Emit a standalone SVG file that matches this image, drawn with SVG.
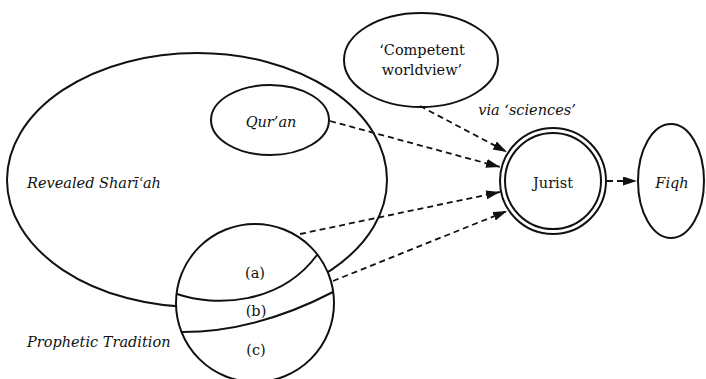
<svg xmlns="http://www.w3.org/2000/svg" width="706" height="379" viewBox="0 0 706 379">
<style>
.sh{fill:none;stroke:#111;stroke-width:2}
.wf{fill:#fff;stroke:#111;stroke-width:2}
text{font-family:'DejaVu Serif','Liberation Serif',serif;font-size:14.5px;fill:#111}
.i{font-style:italic}
.c{text-anchor:middle}
.d{fill:none;stroke:#111;stroke-width:1.8;stroke-dasharray:6 4}
</style>
<defs>
<marker id="ah" markerUnits="userSpaceOnUse" markerWidth="16" markerHeight="10" refX="14" refY="4.5" orient="auto">
<path d="M0,0 L14,4.5 L0,9 z" fill="#111"/>
</marker>
</defs>
<rect width="706" height="379" fill="#fff"/>
<g id="shariah">
<ellipse class="sh" cx="197" cy="180" rx="190" ry="127"/>
<text class="i" x="27" y="188">Revealed Sharīʿah</text>
</g>
<g id="quran">
<ellipse class="sh" cx="270" cy="120" rx="59" ry="35"/>
<text class="i c" x="271" y="127" font-size="15.5">Qur’an</text>
</g>
<g id="tradition">
<circle class="wf" cx="255" cy="303" r="79"/>
<path class="sh" d="M177,294 C215,307 280,305 317,255"/>
<path class="sh" d="M182,332 Q256,332 333,292"/>
<text class="c" x="255" y="278" font-size="15.5">(a)</text>
<text class="c" x="256" y="316" font-size="15.5">(b)</text>
<text class="c" x="256" y="355" font-size="15.5">(c)</text>
<text class="i" x="27" y="347">Prophetic Tradition</text>
</g>
<g id="worldview">
<ellipse class="sh" cx="421" cy="60" rx="77" ry="47"/>
<text class="c" x="422" y="55" font-size="17">‘Competent</text>
<text class="c" x="422" y="75" font-size="17">worldview’</text>
</g>
<g id="jurist">
<circle class="sh" cx="553" cy="181" r="53"/>
<circle class="sh" cx="553" cy="181" r="48"/>
<text class="c" x="553" y="188" font-size="16">Jurist</text>
</g>
<g id="fiqh">
<ellipse class="sh" cx="671" cy="181" rx="33" ry="57"/>
<text class="i c" x="672" y="188">Fiqh</text>
</g>
<g id="connectors">
<text class="i c" x="527" y="115" font-size="13.5">via ‘sciences’</text>
<line class="d" x1="420" y1="106" x2="507" y2="152" marker-end="url(#ah)"/>
<line class="d" x1="330" y1="121" x2="500" y2="167" marker-end="url(#ah)"/>
<line class="d" x1="300" y1="234" x2="500" y2="192" marker-end="url(#ah)"/>
<line class="d" x1="333" y1="281" x2="507" y2="211" marker-end="url(#ah)"/>
<line class="d" x1="607" y1="181" x2="637" y2="181" marker-end="url(#ah)"/>
</g>
</svg>
